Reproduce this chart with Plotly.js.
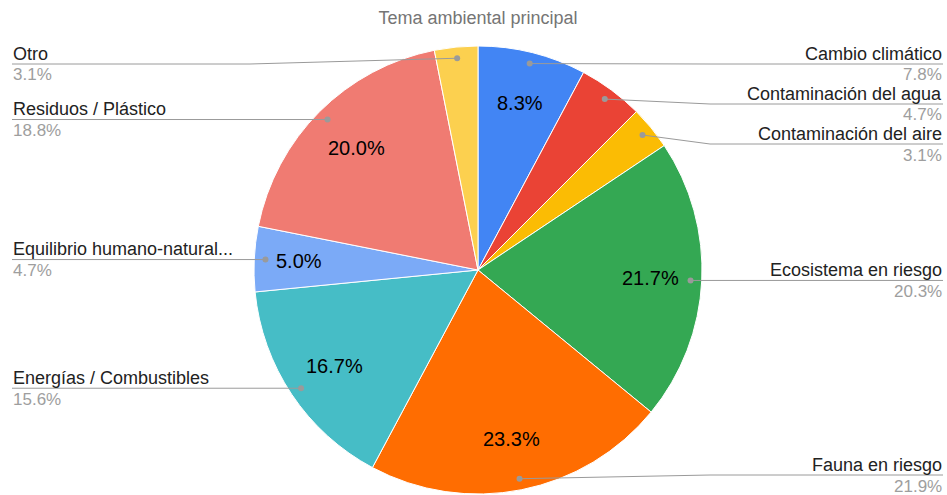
<!DOCTYPE html>
<html>
<head>
<meta charset="utf-8">
<script src="https://cdn.plot.ly/plotly-3.0.1.min.js"></script>
<style>html,body{margin:0;padding:0;background:#fff;}#chart{width:947px;height:495px;}</style>
</head>
<body>
<div id="chart"></div>
<script>
// ---- data ----
const chartTitle = 'Tema ambiental principal';
const categories = ['Cambio climático', 'Contaminación del agua', 'Contaminación del aire',
  'Ecosistema en riesgo', 'Fauna en riesgo', 'Energías / Combustibles',
  'Equilibrio humano-natural...', 'Residuos / Plástico', 'Otro'];
const counts = [5, 3, 2, 13, 14, 10, 3, 12, 2];
const insideLabels = ['8.3%', '', '', '21.7%', '23.3%', '16.7%', '5.0%', '20.0%', ''];
const outsideLabels = ['7.8%', '4.7%', '3.1%', '20.3%', '21.9%', '15.6%', '4.7%', '18.8%', '3.1%'];
const colors = ['#4285F4', '#EA4335', '#FBBC04', '#34A853', '#FF6D01', '#46BDC6', '#7BAAF7', '#F07B72', '#FCD04F'];

// ---- layout geometry ----
const W = 947, H = 495;
const cx = 478, cy = 270, R = 224;
const FONT = 'Liberation Sans, Arial, sans-serif';
const px = x => x / W;
const py = y => 1 - y / H;

const total = counts.reduce((a, b) => a + b, 0);
let cum = 0;
const slices = counts.map((v, i) => {
  const mid = (cum + v / 2) / total * 2 * Math.PI;
  cum += v;
  return {i, frac: v / total, mid};
});
const pt = (ang, r) => [cx + r * Math.sin(ang), cy - r * Math.cos(ang)];

const shapes = [];
const annotations = [];

// outside labels with leader lines
['right', 'left'].forEach(side => {
  const list = slices.filter(s => (Math.sin(s.mid) >= 0) === (side === 'right'))
    .map(s => { const p = pt(s.mid, R * 0.95); return {...s, dx: p[0], dy: p[1]}; })
    .sort((a, b) => a.dy - b.dy);
  let prev = -1e9;
  list.forEach(s => {
    let ly = Math.max(s.dy, prev + 40);
    ly = Math.min(Math.max(ly, 64), 475);
    prev = ly;
    const elbow = side === 'right' ? cx + R + 8 : cx - R - 4;
    const edge = side === 'right' ? 943 : 12;
    shapes.push({type: 'path', xref: 'paper', yref: 'paper',
      path: `M ${px(s.dx)} ${py(s.dy)} L ${px(elbow)} ${py(ly)} L ${px(edge)} ${py(ly)}`,
      line: {color: '#9a9a9a', width: 1}});
    shapes.push({type: 'circle', xref: 'paper', yref: 'paper',
      x0: px(s.dx - 3), x1: px(s.dx + 3), y0: py(s.dy + 3), y1: py(s.dy - 3),
      fillcolor: '#9a9a9a', line: {width: 0}});
    const xa = side === 'right' ? 'right' : 'left';
    const ax = side === 'right' ? px(943) : px(12);
    annotations.push({xref: 'paper', yref: 'paper', x: ax, y: py(ly - 10.5), xanchor: xa, yanchor: 'middle',
      text: categories[s.i], showarrow: false, borderpad: 0, font: {family: FONT, size: 18, color: '#222222'}});
    annotations.push({xref: 'paper', yref: 'paper', x: ax, y: py(ly + 11), xanchor: xa, yanchor: 'middle',
      text: outsideLabels[s.i], showarrow: false, borderpad: 0, font: {family: FONT, size: 17, color: '#9e9e9e'}});
  });
});

// inside labels
slices.forEach(s => {
  if (!insideLabels[s.i]) return;
  const r = s.frac < 0.06 ? R * 0.8 : R * 0.77;
  const p = pt(s.mid, r);
  annotations.push({xref: 'paper', yref: 'paper', x: px(p[0]), y: py(p[1]), xanchor: 'center', yanchor: 'middle',
    text: insideLabels[s.i], showarrow: false, font: {family: FONT, size: 20, color: '#000000'}});
});

const trace = {
  type: 'pie',
  labels: categories,
  values: counts,
  sort: false,
  direction: 'clockwise',
  rotation: 0,
  textinfo: 'none',
  hoverinfo: 'none',
  marker: {colors: colors, line: {color: '#ffffff', width: 1}},
  domain: {x: [px(cx - R), px(cx + R)], y: [py(cy + R), py(cy - R)]},
  showlegend: false
};

const layout = {
  width: W, height: H,
  margin: {l: 0, r: 0, t: 0, b: 0},
  paper_bgcolor: '#ffffff',
  title: {text: chartTitle, font: {family: FONT, size: 18, color: '#757575'},
    x: px(478), xanchor: 'center', y: 1 - 18 / H, yanchor: 'middle', yref: 'container'},
  shapes: shapes,
  annotations: annotations,
  showlegend: false
};

Plotly.newPlot('chart', [trace], layout, {displayModeBar: false, staticPlot: true});
</script>
</body>
</html>
